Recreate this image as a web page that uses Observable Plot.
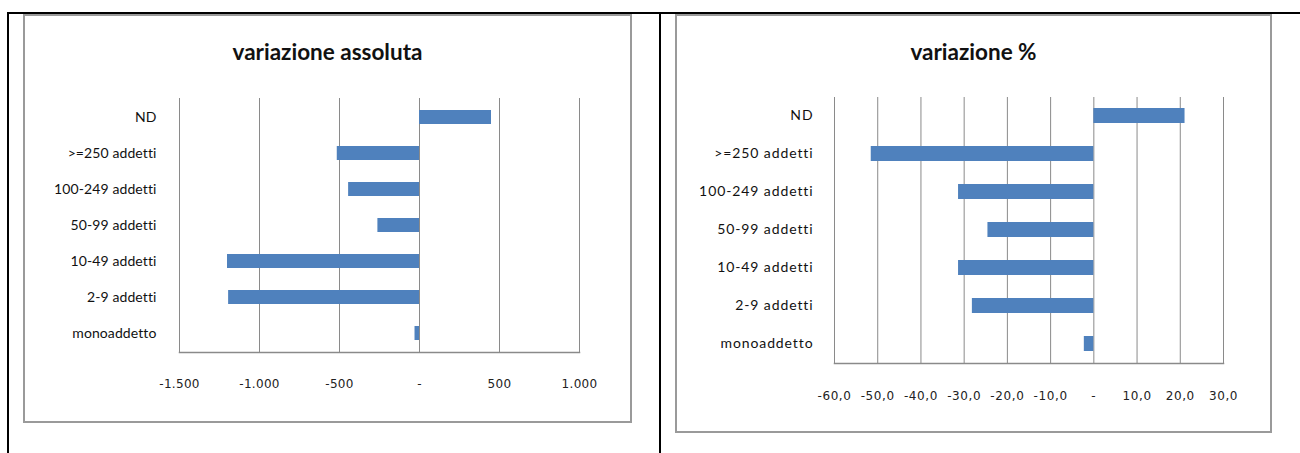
<!DOCTYPE html>
<html>
<head>
<meta charset="utf-8">
<script src="https://cdn.jsdelivr.net/npm/d3@7"></script>
<script src="https://cdn.jsdelivr.net/npm/@observablehq/plot@0.6"></script>
<style>
  html, body { margin: 0; padding: 0; background: #fff; }
  #page { position: relative; width: 1300px; height: 453px; overflow: hidden; }
  .rule { position: absolute; background: #000; }
  .panel { position: absolute; box-sizing: border-box; border: 2px solid #9a9a9a; background: #fff; }
  .panel svg { position: absolute; left: 0; top: 0; overflow: visible; }
  .title { position: absolute; left: 0; right: 0; text-align: center;
           font-family: Lato, sans-serif; font-weight: bold; font-size: 22.5px; color: #111; }
</style>
</head>
<body>
<div id="page">
  <div class="rule" style="left:7px; top:12px; width:1293px; height:2px;"></div>
  <div class="rule" style="left:7px; top:12px; width:2px; height:441px;"></div>
  <div class="rule" style="left:659px; top:12px; width:2px; height:441px;"></div>
  <div class="panel" id="p1" style="left:23px; top:14px; width:609px; height:409px;">
    <div class="title" style="top:22px;">variazione assoluta</div>
  </div>
  <div class="panel" id="p2" style="left:675px; top:14px; width:597px; height:419px;">
    <div class="title" style="top:22px;">variazione %</div>
  </div>
</div>
<script>
// Size classes of firms, top to bottom
const categories = ["ND", ">=250 addetti", "100-249 addetti", "50-99 addetti", "10-49 addetti", "2-9 addetti", "monoaddetto"];
// Absolute change in number of firms
const variazioneAssoluta = [450, -514, -443, -260, -1200, -1193, -28];
// Percentage change
const variazionePercentuale = [21.1, -51.5, -31.3, -24.5, -31.3, -28.1, -2.2];
// Axis ticks
const ticksAssoluta = [-1500, -1000, -500, 0, 500, 1000];
const ticksPercentuale = [-60, -50, -40, -30, -20, -10, 0, 10, 20, 30];

const it = d3.formatLocale({decimal: ",", thousands: ".", grouping: [3], currency: ["", " €"], minus: "-"});
const fmtInt = it.format(",.0f");
const fmtDec = it.format(",.1f");

const barColor = "#4f81bd";
const gridColor = "#8a8a8a";

function chart({values, ticks, domain, fmt, width, height, margins, labelPad, tickPad, labelSpacing, tickSpacing}) {
  const data = categories.map((c, i) => ({categoria: c, valore: values[i]}));
  const tickFormat = d => d === 0 ? "-" : fmt(d);
  const svg = Plot.plot({
    width, height,
    marginLeft: margins[0], marginRight: margins[1], marginTop: margins[2], marginBottom: margins[3],
    style: {background: "transparent", overflow: "visible"},
    x: {domain, ticks, tickFormat, label: null},
    y: {domain: categories, paddingInner: 0.6, paddingOuter: 0.3, label: null},
    marks: [
      Plot.ruleX(ticks, {stroke: gridColor, strokeWidth: 1}),
      Plot.frame({anchor: "bottom", stroke: gridColor, strokeWidth: 1.5}),
      Plot.barX(data, {x: "valore", y: "categoria", fill: barColor}),
      Plot.axisX({ticks, tickSize: 0, tickPadding: tickPad, tickFormat,
                  fontSize: 12, fontFamily: "DejaVu Sans", fill: "#222", label: null}),
      Plot.axisY({tickSize: 0, tickPadding: labelPad, fontSize: 14, fontFamily: "Lato", fill: "#111", label: null})
    ]
  });
  svg.querySelectorAll("[aria-label='y-axis tick label'] text").forEach(t => t.style.letterSpacing = labelSpacing);
  svg.querySelectorAll("[aria-label='x-axis tick label'] text").forEach(t => t.style.letterSpacing = tickSpacing);
  return svg;
}

document.getElementById("p1").appendChild(chart({
  values: variazioneAssoluta, ticks: ticksAssoluta, domain: [-1500, 1000], fmt: fmtInt,
  width: 605, height: 405, margins: [154, 51, 82, 69], labelPad: 23, tickPad: 27,
  labelSpacing: "0.1px", tickSpacing: "0.3px"
}));
document.getElementById("p2").appendChild(chart({
  values: variazionePercentuale, ticks: ticksPercentuale, domain: [-60, 30], fmt: fmtDec,
  width: 593, height: 415, margins: [157, 47, 81, 68], labelPad: 21, tickPad: 28,
  labelSpacing: "0.9px", tickSpacing: "0.6px"
}));
</script>
</body>
</html>
